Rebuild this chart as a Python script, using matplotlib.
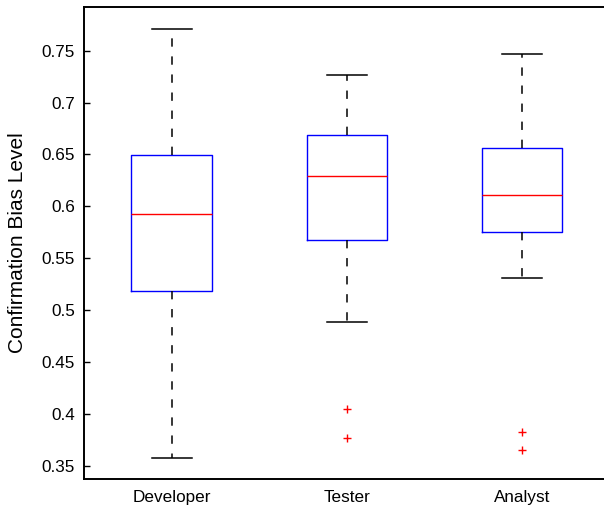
import matplotlib
matplotlib.use("Agg")
import matplotlib.pyplot as plt
from matplotlib.ticker import FormatStrFormatter

plt.rcParams["font.family"] = ["Liberation Sans", "DejaVu Sans"]
plt.rcParams["lines.scale_dashes"] = False

# box statistics
groups = ["Developer", "Tester", "Analyst"]
whisker_low = [0.3574, 0.4882, 0.5312]
q1 = [0.5187, 0.5676, 0.5756]
medians = [0.5929, 0.6295, 0.6112]
q3 = [0.6498, 0.6690, 0.6565]
whisker_high = [0.7712, 0.7269, 0.7471]
outliers = [[], [0.4047, 0.3764], [0.3828, 0.3654]]

stats = []
for i, name in enumerate(groups):
    stats.append({
        "label": name,
        "whislo": whisker_low[i],
        "q1": q1[i],
        "med": medians[i],
        "q3": q3[i],
        "whishi": whisker_high[i],
        "fliers": outliers[i],
    })

fig = plt.figure(figsize=(6.04, 5.09), dpi=100)
ax = fig.add_axes([0.1392, 0.0589, 0.870, 0.9273])

ax.bxp(
    stats,
    positions=[1, 2, 3],
    widths=0.46,
    showfliers=True,
    boxprops=dict(color="#0000ff", linewidth=1.0),
    medianprops=dict(color="#ff0000", linewidth=1.0),
    whiskerprops=dict(color="black", linewidth=1.1, linestyle=(0, (6, 7))),
    capprops=dict(color="black", linewidth=1.1),
    flierprops=dict(marker="+", markeredgecolor="#ff0000", markersize=6,
                    markeredgewidth=1.0, linestyle="none"),
)

ax.set_xlim(0.5, 3.5)
ax.set_ylim(0.3372, 0.7921)
ax.set_yticks([0.35, 0.4, 0.45, 0.5, 0.55, 0.6, 0.65, 0.7, 0.75])
ax.yaxis.set_major_formatter(FormatStrFormatter("%g"))
ax.tick_params(axis="y", direction="in", length=4, width=1.0, labelsize=12.3, pad=6.5)
ax.tick_params(axis="x", length=0, labelsize=12.3, pad=8)
ax.set_ylabel("Confirmation Bias Level", fontsize=15)
ax.yaxis.set_label_coords(-0.108, 0.5)

for sp in ax.spines.values():
    sp.set_linewidth(1.4)

fig.savefig("out.png", dpi=100)
